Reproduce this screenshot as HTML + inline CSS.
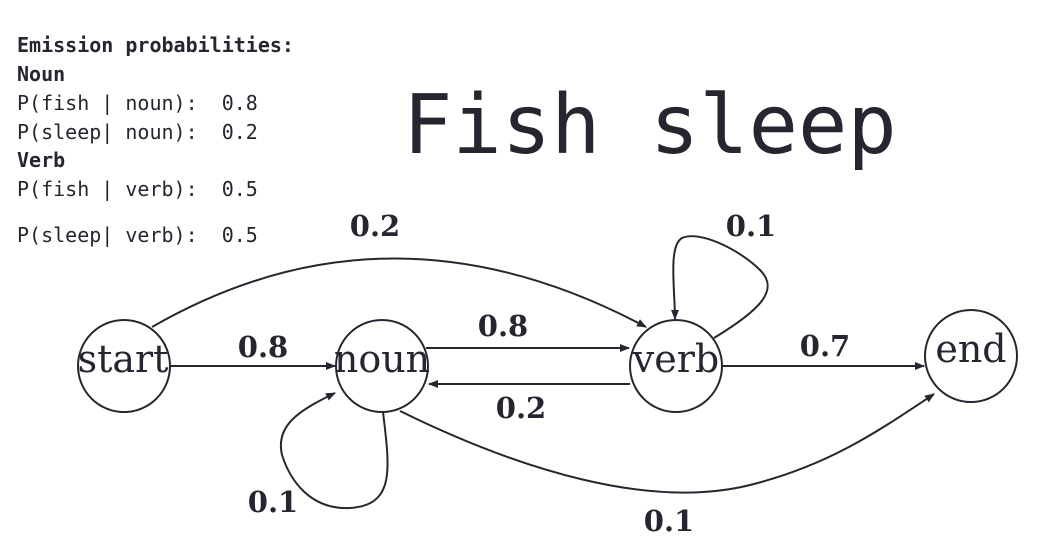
<!DOCTYPE html>
<html><head><meta charset="utf-8"><style>
html,body{margin:0;padding:0;background:#fff;width:1055px;height:555px;overflow:hidden}
</style></head><body>
<svg width="1055" height="555" viewBox="0 0 1055 555" xmlns="http://www.w3.org/2000/svg">
<defs><marker id="a" markerWidth="10" markerHeight="8" refX="9" refY="4" orient="auto" markerUnits="userSpaceOnUse"><path d="M0,0 L10,4 L0,8 Z" fill="#262631"/></marker></defs>
<g font-family="'DejaVu Sans Mono','Liberation Mono',monospace" font-size="20" fill="#262631">
<text x="17" y="52" font-weight="bold">Emission probabilities:</text>
<text x="17" y="81" font-weight="bold">Noun</text>
<text x="17" y="110" xml:space="preserve">P(fish | noun):  0.8</text>
<text x="17" y="139" xml:space="preserve">P(sleep| noun):  0.2</text>
<text x="17" y="167" font-weight="bold">Verb</text>
<text x="17" y="196" xml:space="preserve">P(fish | verb):  0.5</text>
<text x="17" y="242" xml:space="preserve">P(sleep| verb):  0.5</text>
</g>
<text x="403" y="153" font-family="'DejaVu Sans Mono','Liberation Mono',monospace" font-size="82" fill="#262631">Fish sleep</text>
<g fill="none" stroke="#262631" stroke-width="2">
<circle cx="124" cy="366" r="46"/>
<circle cx="382" cy="366" r="46"/>
<circle cx="676" cy="366" r="46"/>
<circle cx="971" cy="356" r="46"/>
<line x1="170" y1="366" x2="335" y2="366" marker-end="url(#a)"/>
<line x1="426" y1="348" x2="629" y2="348" marker-end="url(#a)"/>
<line x1="630" y1="384" x2="429" y2="384" marker-end="url(#a)"/>
<line x1="722" y1="366" x2="924" y2="366" marker-end="url(#a)"/>
<path d="M152,327 Q390,190 646,327" marker-end="url(#a)"/>
<path d="M383,412 C390,470 395,505 350,508 C310,510 290,480 282,455 C275,425 300,410 335,393" marker-end="url(#a)"/>
<path d="M714,338 C760,310 780,290 760,270 C740,250 700,230 682,238 C668,246 675,290 675,319" marker-end="url(#a)"/>
<path d="M400,411 C520,470 650,510 750,485 C830,465 880,430 934,394" marker-end="url(#a)"/>
</g>
<g font-family="'DejaVu Serif','Liberation Serif',serif" font-size="38" fill="#262631" text-anchor="middle">
<text x="123" y="372">start</text>
<text x="382" y="372">noun</text>
<text x="676" y="372">verb</text>
<text x="971" y="362">end</text>
</g>
<g font-family="'DejaVu Serif','Liberation Serif',serif" font-size="29" font-weight="bold" fill="#262631" text-anchor="middle">
<text x="375" y="236">0.2</text>
<text x="263" y="357">0.8</text>
<text x="503" y="336">0.8</text>
<text x="521" y="418">0.2</text>
<text x="751" y="236">0.1</text>
<text x="825" y="356">0.7</text>
<text x="273" y="512">0.1</text>
<text x="669" y="531">0.1</text>
</g>
</svg>
</body></html>
